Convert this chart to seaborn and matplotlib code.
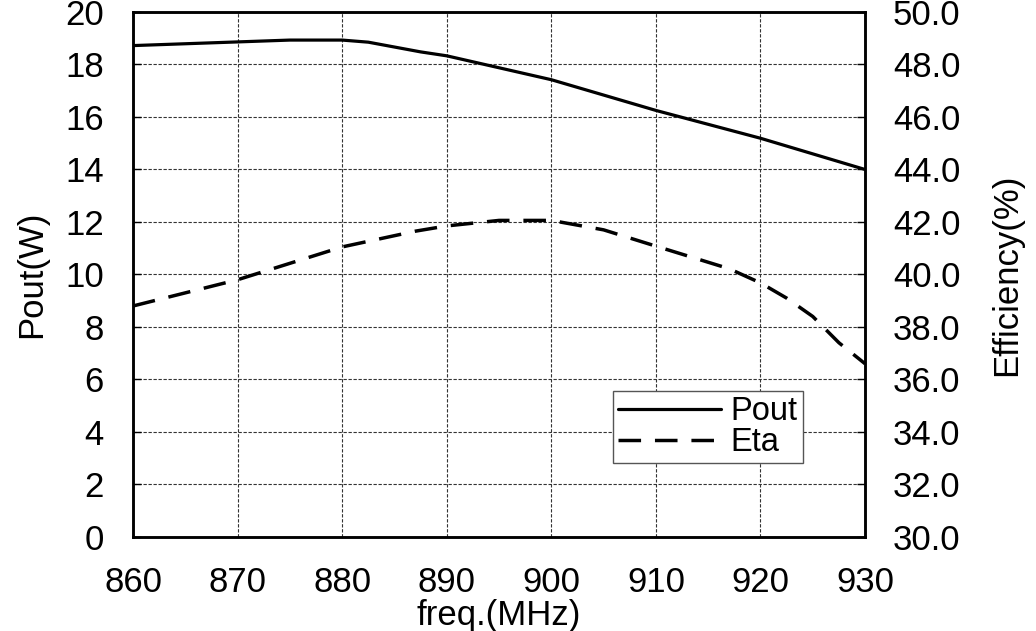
import numpy as np
import pandas as pd
import seaborn as sns
import matplotlib.pyplot as plt
from matplotlib.lines import Line2D

# data
freq_pout = [860, 870, 875, 880, 882.5, 887.5, 890, 900, 910, 920, 930]
pout = [18.72, 18.86, 18.93, 18.93, 18.85, 18.48, 18.33, 17.42, 16.25, 15.19, 14.0]

freq_eta = [860, 870, 880, 887, 890, 895, 900, 905, 910, 917, 920, 922.5, 925, 927.5, 930]
eta = [38.8, 39.8, 41.05, 41.65, 41.85, 42.06, 42.06, 41.7, 41.08, 40.22, 39.68, 39.1, 38.4, 37.4, 36.6]

x_ticks = [860, 870, 880, 890, 900, 910, 920, 930]
left_ticks = list(range(0, 21, 2))
right_ticks = list(range(30, 51, 2))

sns.set_style('white')
plt.rcParams['font.family'] = ['Liberation Sans', 'DejaVu Sans']
plt.rcParams['text.color'] = 'black'
plt.rcParams['axes.labelcolor'] = 'black'

fig = plt.figure(figsize=(10.36, 6.31), dpi=100)
ax = fig.add_axes([0.1284, 0.149, 0.7066, 0.832])
ax2 = ax.twinx()

df_p = pd.DataFrame({'freq': freq_pout, 'pout': pout})
df_e = pd.DataFrame({'freq': freq_eta, 'eta': eta})

sns.lineplot(data=df_p, x='freq', y='pout', ax=ax, color='black', linewidth=2.3)
sns.lineplot(data=df_e, x='freq', y='eta', ax=ax2, color='black', linewidth=2.5,
             dashes=False)
ax2.lines[0].set_dashes((6.5, 4))

ax.set_xlim(860, 930)
ax.set_ylim(0, 20)
ax2.set_ylim(30, 50)
ax.set_xticks(x_ticks)
ax.set_yticks(left_ticks)
ax2.set_yticks(right_ticks)
ax2.set_yticklabels([f'{v:.1f}' for v in right_ticks])

ax.grid(True, color='#333333', linestyle=(0, (3, 1.5)), linewidth=0.8)
ax.set_axisbelow(True)

for a in (ax, ax2):
    for s in a.spines.values():
        s.set_linewidth(1.8)
        s.set_color('black')
    a.tick_params(direction='in', length=6, width=1, labelsize=25,
                  colors='black', labelcolor='black')
ax.tick_params(axis='x', pad=21)
ax.tick_params(axis='y', pad=21)
ax2.tick_params(axis='y', pad=20)

ax.set_xlabel('freq.(MHz)', fontsize=25, labelpad=0)
ax.set_ylabel('Pout(W)', fontsize=25, labelpad=12)
ax2.set_ylabel('Efficiency(%)', fontsize=25, labelpad=21)

handles = [Line2D([], [], color='black', linewidth=2.3),
           Line2D([], [], color='black', linewidth=2.5, dashes=(6.5, 4))]
leg = ax2.legend(handles, ['Pout', 'Eta'], loc='lower left',
                 bbox_to_anchor=(0.656, 0.141), fontsize=23.5, handlelength=3.15,
                 frameon=True, fancybox=False, framealpha=1, borderpad=0.15,
                 labelspacing=0.0, handletextpad=0.3, borderaxespad=0)
leg.get_frame().set_edgecolor('#555555')
leg.get_frame().set_linewidth(1.0)

fig.savefig('out.png', dpi=100)
